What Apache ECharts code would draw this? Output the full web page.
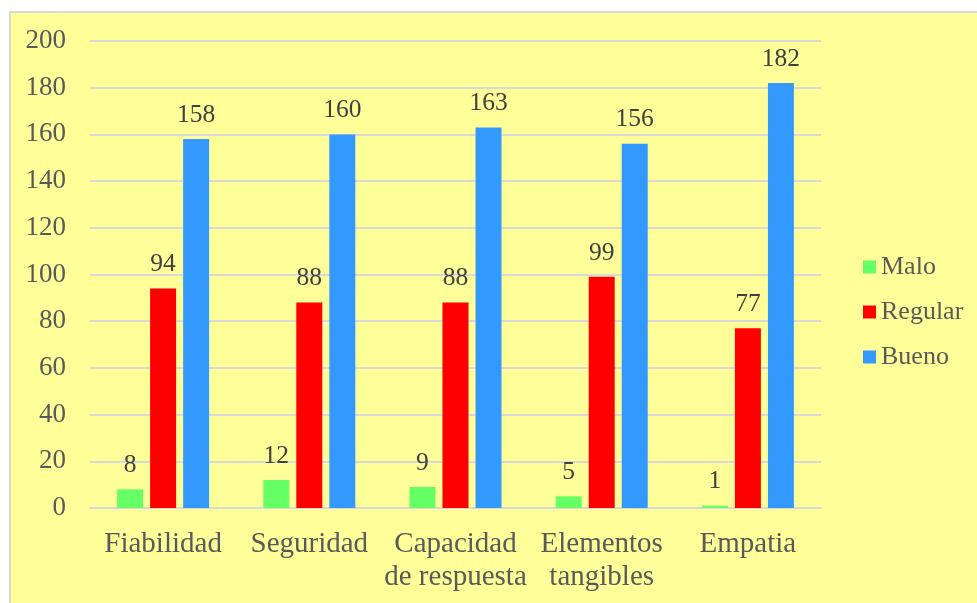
<!DOCTYPE html>
<html>
<head>
<meta charset="utf-8">
<script src="https://cdn.jsdelivr.net/npm/echarts@6/dist/echarts.min.js"></script>
<style>
  html, body { margin: 0; padding: 0; background: #ffffff; }
  #frame { position: absolute; left: 9px; top: 11px; width: 977px; height: 603px;
           background: #FFFF99; border: 2px solid #D9D9D9; box-sizing: border-box; }
  #chart { position: absolute; left: 0; top: 0; width: 977px; height: 603px; }
</style>
</head>
<body>
<div id="frame"></div>
<div id="chart"></div>
<script>
// Dimensiones evaluadas y frecuencia por nivel
const categories = ['Fiabilidad', 'Seguridad', 'Capacidad\nde respuesta', 'Elementos\ntangibles', 'Empatia'];
const malo = [8, 12, 9, 5, 1];
const regular = [94, 88, 88, 99, 77];
const bueno = [158, 160, 163, 156, 182];
const yTicks = { min: 0, max: 200, step: 20 };

const serif = '"Liberation Serif", "Times New Roman", serif';

function barSeries(name, data, color) {
  return {
    name: name,
    type: 'bar',
    data: data,
    barWidth: 26,
    barGap: '27%',
    itemStyle: { color: color },
    label: {
      show: true,
      position: 'top',
      distance: 11,
      fontFamily: serif,
      fontSize: 25.5,
      color: '#404040'
    }
  };
}

const chart = echarts.init(document.getElementById('chart'), null, { renderer: 'canvas' });
chart.setOption({
  backgroundColor: 'transparent',
  animation: false,
  grid: { left: 90, right: 156, top: 41, bottom: 95, containLabel: false },
  legend: {
    orient: 'vertical',
    left: 863,
    top: 254,
    padding: 0,
    itemWidth: 13,
    itemHeight: 13,
    itemGap: 19,
    itemTextGap: 6,
    icon: 'rect',
    textStyle: { fontFamily: serif, fontSize: 26, color: '#595959', lineHeight: 26 },
    data: ['Malo', 'Regular', 'Bueno']
  },
  xAxis: {
    type: 'category',
    data: categories,
    axisLine: { lineStyle: { color: '#D9D9D9', width: 2 } },
    axisTick: { show: false },
    axisLabel: {
      fontFamily: serif, fontSize: 29, color: '#595959',
      lineHeight: 33, margin: 20, interval: 0
    }
  },
  yAxis: {
    type: 'value',
    min: yTicks.min,
    max: yTicks.max,
    interval: yTicks.step,
    axisLine: { show: false },
    axisTick: { show: false },
    splitLine: { lineStyle: { color: '#D9D9D9', width: 2 } },
    axisLabel: { fontFamily: serif, fontSize: 27, color: '#595959', margin: 24 }
  },
  series: [
    barSeries('Malo', malo, '#66FF66'),
    barSeries('Regular', regular, '#FF0000'),
    barSeries('Bueno', bueno, '#3399FF')
  ]
});
</script>
</body>
</html>
